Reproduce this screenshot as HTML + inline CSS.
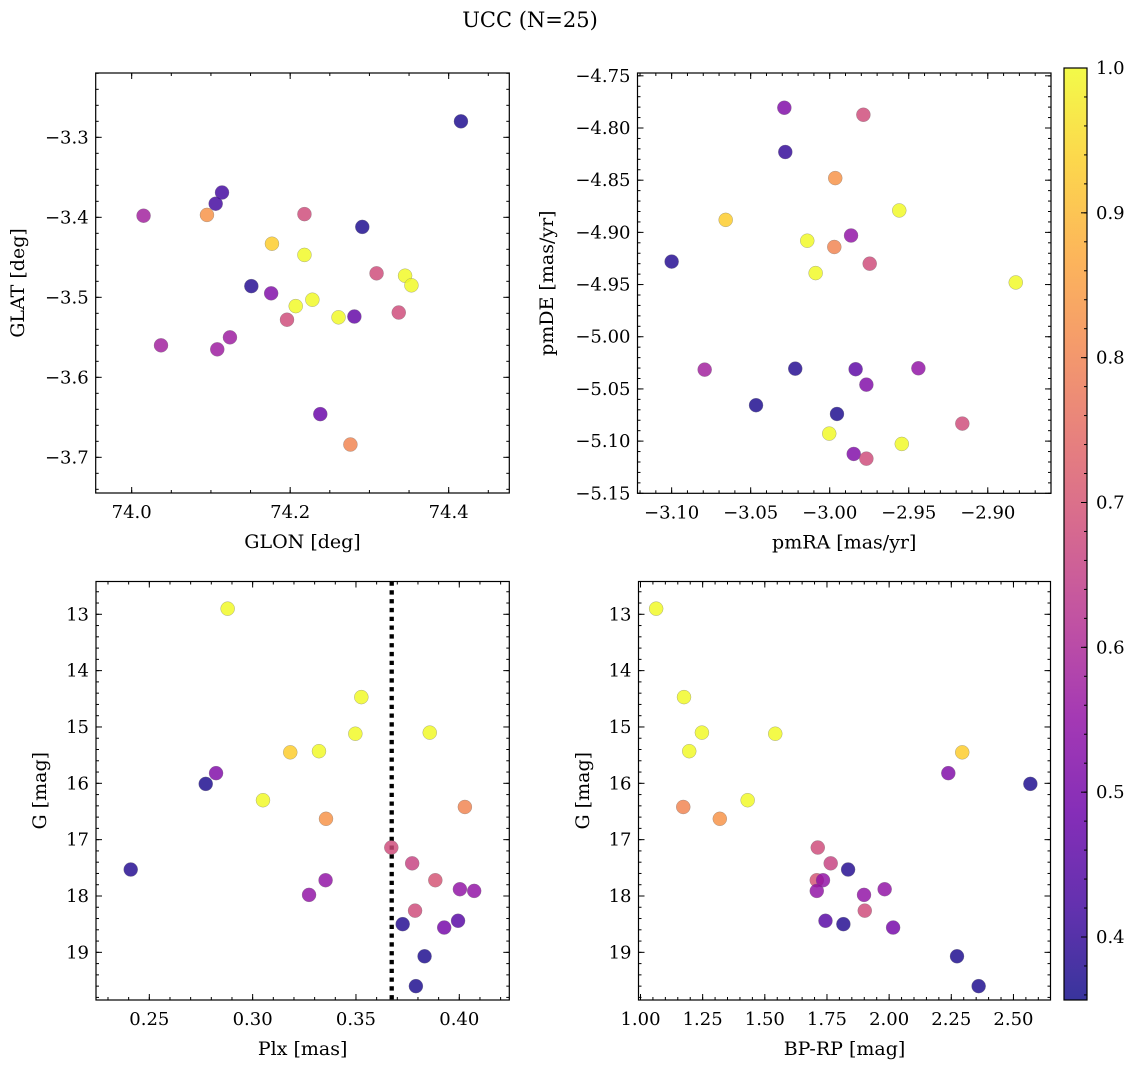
<!DOCTYPE html>
<html><head><meta charset="utf-8"><style>
html,body{margin:0;padding:0;background:#fff;}
svg text{font-family:"DejaVu Serif","Liberation Serif",serif;fill:#000;}
</style></head><body>
<svg id="fig" width="1136" height="1068" viewBox="0 0 1136 1068" xmlns="http://www.w3.org/2000/svg">
<text x="530" y="27" font-size="21" text-anchor="middle">UCC (N=25)</text>
</svg>
<script>
// Panel 1: GLON vs GLAT
const glon = [74.4155,74.114,74.106,74.015,74.095,74.218,74.291,74.177,74.218,74.309,74.345,74.353,74.151,74.176,74.228,74.207,74.196,74.261,74.281,74.337,74.124,74.037,74.108,74.238,74.276];
const glat = [-3.280,-3.369,-3.383,-3.398,-3.397,-3.396,-3.412,-3.433,-3.447,-3.470,-3.473,-3.485,-3.486,-3.495,-3.503,-3.511,-3.528,-3.525,-3.524,-3.519,-3.550,-3.560,-3.565,-3.646,-3.684];
const prob1 = [0.37,0.42,0.42,0.58,0.83,0.68,0.37,0.93,1.0,0.68,1.0,1.0,0.38,0.52,1.0,1.0,0.68,1.0,0.47,0.68,0.57,0.58,0.57,0.48,0.80];
// Panel 2: pmRA vs pmDE
const pmra = [-3.0287,-2.9787,-3.0281,-2.9965,-2.956,-3.0658,-3.0142,-2.9865,-2.9971,-3.10,-2.9747,-3.0089,-2.8823,-3.0791,-3.0218,-2.9836,-2.9439,-2.9768,-3.0466,-2.9954,-2.9161,-3.0003,-2.9544,-2.9848,-2.9768];
const pmde = [-4.7806,-4.7873,-4.823,-4.848,-4.879,-4.888,-4.908,-4.903,-4.914,-4.928,-4.930,-4.939,-4.948,-5.0315,-5.0306,-5.0311,-5.0302,-5.0459,-5.0656,-5.074,-5.0832,-5.0928,-5.1027,-5.1123,-5.1168];
const prob2 = [0.52,0.68,0.40,0.83,1.0,0.93,1.0,0.55,0.80,0.38,0.68,1.0,1.0,0.58,0.38,0.46,0.55,0.52,0.37,0.37,0.68,1.0,1.0,0.52,0.68];
// Panels 3 & 4: Plx, BP-RP vs G
const gmag = [12.90,14.47,15.10,15.43,15.12,15.45,15.82,16.01,16.42,16.30,16.63,17.14,17.42,17.53,17.72,17.72,17.91,17.88,17.98,18.26,18.44,18.50,18.56,19.07,19.60];
const bprp = [1.063,1.175,1.247,1.196,1.542,2.294,2.238,2.568,1.172,1.431,1.319,1.713,1.765,1.835,1.709,1.734,1.709,1.982,1.899,1.902,1.744,1.816,2.016,2.273,2.360];
const plx = [0.2879,0.3526,0.3857,0.3321,0.3497,0.3182,0.2823,0.2773,0.4027,0.3050,0.3355,0.3671,0.3772,0.2410,0.3884,0.3353,0.4072,0.4003,0.3273,0.3786,0.3994,0.3726,0.3927,0.3832,0.3790];
const prob34 = [1.0,1.0,1.0,1.0,1.0,0.93,0.52,0.37,0.80,1.0,0.83,0.68,0.66,0.38,0.70,0.55,0.55,0.55,0.55,0.68,0.45,0.38,0.50,0.37,0.37];
const plxLine = [0.3673];
// Tick values
const ticksX1 = [74.0,74.2,74.4], ticksY1 = [-3.3,-3.4,-3.5,-3.6,-3.7];
const ticksX2 = [-3.10,-3.05,-3.00,-2.95,-2.90], ticksY2 = [-4.75,-4.80,-4.85,-4.90,-4.95,-5.00,-5.05,-5.10,-5.15];
const ticksX3 = [0.25,0.30,0.35,0.40], ticksY3 = [13,14,15,16,17,18,19];
const ticksX4 = [1.00,1.25,1.50,1.75,2.00,2.25,2.50];
const ticksCB = [0.4,0.5,0.6,0.7,0.8,0.9,1.0];

const NS = 'http://www.w3.org/2000/svg';
const svg = document.getElementById('fig');
const VMIN = 0.3565, VMAX = 1.0;
const TFS = 18, LFS = 19;
const plasma = [[13,8,135],[65,4,157],[106,0,168],[143,13,164],[177,42,144],[204,71,120],[225,100,98],[242,132,75],[252,166,54],[252,206,37],[240,249,33]];
function cmap(v){
  let t=(v-VMIN)/(VMAX-VMIN); t=Math.max(0,Math.min(1,t));
  const f=t*10, i=Math.min(9,Math.floor(f)), r=f-i;
  const a=plasma[i], b=plasma[i+1];
  return 'rgb('+a.map((c,k)=>Math.round(c+(b[k]-c)*r)).join(',')+')';
}
function mk(tag, attrs, parent){
  const e=document.createElementNS(NS,tag);
  for(const k in attrs) e.setAttribute(k,attrs[k]);
  (parent||svg).appendChild(e); return e;
}
function fmt(v,d){ const s=Math.abs(v).toFixed(d); return (v<0?'\u2212':'')+s; }

function panel(cfg){
  const g=mk('g',{});
  
  
  const sx=v=>cfg.x0+(v-cfg.xd[0])/(cfg.xd[1]-cfg.xd[0])*(cfg.x1-cfg.x0);
  const sy=cfg.invert ? (v=>cfg.y0+(v-cfg.yd[0])/(cfg.yd[1]-cfg.yd[0])*(cfg.y1-cfg.y0))
                      : (v=>cfg.y1-(v-cfg.yd[0])/(cfg.yd[1]-cfg.yd[0])*(cfg.y1-cfg.y0));
  if(cfg.vline){ cfg.vline.forEach(v=>{
    const l=mk('line',{x1:sx(v),x2:sx(v),y1:cfg.y0,y2:cfg.y1,stroke:'#000','stroke-width':4.3,'stroke-dasharray':'4.3 4.5'},g);
    
    
  });}
  const pts=mk('g',{},g);
  
  
  cfg.xs.forEach((xv,i)=>{
    const c=mk('circle',{cx:sx(xv),cy:sy(cfg.ys[i]),r:7,fill:cmap(cfg.c[i]),'fill-opacity':0.82,stroke:'#777','stroke-opacity':0.6,'stroke-width':0.5},pts);
    
    
  });
  const fr=mk('rect',{x:cfg.x0,y:cfg.y0,width:cfg.x1-cfg.x0,height:cfg.y1-cfg.y0,fill:'none',stroke:'#000','stroke-width':1.2},g);
  
  
  const tk=mk('g',{stroke:'#000','stroke-width':1},g);
  
  
  function ticksRange(d,step){ const a=[]; let s=Math.ceil(Math.min(d[0],d[1])/step-1e-6); for(let k=s;k*step<=Math.max(d[0],d[1])+1e-9;k++) a.push(k*step); return a; }
  ticksRange(cfg.xd,cfg.xminor).forEach(v=>{ const x=sx(v);
    mk('line',{x1:x,x2:x,y1:cfg.y1,y2:cfg.y1-3},tk); mk('line',{x1:x,x2:x,y1:cfg.y0,y2:cfg.y0+3},tk);});
  ticksRange(cfg.yd,cfg.yminor).forEach(v=>{ const y=sy(v);
    mk('line',{x1:cfg.x0,x2:cfg.x0+3,y1:y,y2:y},tk); mk('line',{x1:cfg.x1,x2:cfg.x1-3,y1:y,y2:y},tk);});
  cfg.xt.forEach(v=>{ const x=sx(v);
    mk('line',{x1:x,x2:x,y1:cfg.y1,y2:cfg.y1-6},tk); mk('line',{x1:x,x2:x,y1:cfg.y0,y2:cfg.y0+6},tk);
    const t=mk('text',{x:x,y:cfg.y1+25,'font-size':TFS,'text-anchor':'middle'},g); t.textContent=fmt(v,cfg.xdec);
    
    
  });
  cfg.yt.forEach(v=>{ const y=sy(v);
    mk('line',{x1:cfg.x0,x2:cfg.x0+6,y1:y,y2:y},tk); mk('line',{x1:cfg.x1,x2:cfg.x1-6,y1:y,y2:y},tk);
    const t=mk('text',{x:cfg.x0-7,y:y+6,'font-size':TFS,'text-anchor':'end'},g); t.textContent=fmt(v,cfg.ydec);
    
    
  });
  const xl=mk('text',{x:(cfg.x0+cfg.x1)/2,y:cfg.y1+55,'font-size':LFS,'text-anchor':'middle'},g); xl.textContent=cfg.xlabel;
  
  
  const yy=(cfg.y0+cfg.y1)/2;
  const yl=mk('text',{x:cfg.ylx,y:yy,'font-size':LFS,'text-anchor':'middle',transform:'rotate(-90 '+cfg.ylx+' '+yy+')'},g); yl.textContent=cfg.ylabel;
  
  
}

panel({name:'glon-glat-panel',x0:95.7,x1:509.3,y0:73,y1:493,xd:[73.9546,74.4765],yd:[-3.7446,-3.2196],xs:glon,ys:glat,c:prob1,
  xt:ticksX1,yt:ticksY1,xminor:0.05,yminor:0.02,xdec:1,ydec:1,xlabel:'GLON [deg]',ylabel:'GLAT [deg]',ylx:24});
panel({name:'pm-panel',x0:637.5,x1:1051,y0:73,y1:493.3,xd:[-3.1216,-2.860],yd:[-5.150,-4.7473],xs:pmra,ys:pmde,c:prob2,
  xt:ticksX2,yt:ticksY2,xminor:0.01,yminor:0.01,xdec:2,ydec:2,xlabel:'pmRA [mas/yr]',ylabel:'pmDE [mas/yr]',ylx:553});
panel({name:'plx-g-panel',x0:96,x1:509.3,y0:581.5,y1:1000,xd:[0.2242,0.4242],yd:[12.418,19.846],invert:true,xs:plx,ys:gmag,c:prob34,
  xt:ticksX3,yt:ticksY3,xminor:0.01,yminor:0.2,xdec:2,ydec:0,xlabel:'Plx [mas]',ylabel:'G [mag]',ylx:46,vline:plxLine});
panel({name:'cmd-panel',x0:638.5,x1:1050.5,y0:581.5,y1:1000,xd:[0.992,2.649],yd:[12.418,19.846],invert:true,xs:bprp,ys:gmag,c:prob34,
  xt:ticksX4,yt:ticksY3,xminor:0.05,yminor:0.2,xdec:2,ydec:0,xlabel:'BP-RP [mag]',ylabel:'G [mag]',ylx:589});

// Colorbar
(function(){
  const cx0=1064, cx1=1087, cy0=68, cy1=1000;
  const defs=mk('defs',{});
  const lg=mk('linearGradient',{id:'cbg',x1:0,y1:1,x2:0,y2:0},defs);
  plasma.forEach((c,i)=>mk('stop',{offset:(i/10),'stop-color':'rgb('+c.join(',')+')'},lg));
  const g=mk('g',{});
  
  
  mk('rect',{x:cx0,y:cy0,width:cx1-cx0,height:cy1-cy0,fill:'url(#cbg)','fill-opacity':0.82},g);
  mk('rect',{x:cx0,y:cy0,width:cx1-cx0,height:cy1-cy0,fill:'none',stroke:'#000','stroke-width':1.2},g);
  const sy=v=>cy1-(v-VMIN)/(VMAX-VMIN)*(cy1-cy0);
  for(let k=Math.ceil(VMIN/0.02);k*0.02<=VMAX+1e-9;k++){ const y=sy(k*0.02);
    mk('line',{x1:cx1,x2:cx1-3,y1:y,y2:y,stroke:'#000','stroke-width':1},g);}
  ticksCB.forEach(v=>{ const y=sy(v);
    mk('line',{x1:cx1,x2:cx1-6,y1:y,y2:y,stroke:'#000','stroke-width':1},g);
    const t=mk('text',{x:cx1+9,y:y+6,'font-size':TFS},g); t.textContent=v.toFixed(1);
    
    
  });
})();
</script>
</body></html>
